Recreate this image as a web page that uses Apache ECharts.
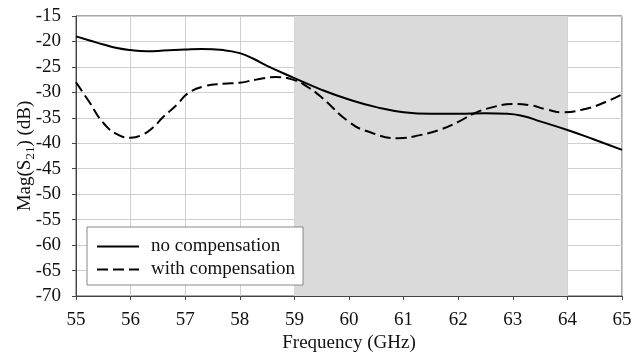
<!DOCTYPE html>
<html>
<head>
<meta charset="utf-8">
<script src="https://cdn.jsdelivr.net/npm/echarts@6/dist/echarts.min.js"></script>
<style>
  html, body { margin: 0; padding: 0; background: #fff; }
  #chart { width: 643px; height: 352px; }
</style>
</head>
<body>
<div id="chart"></div>
<script>
// S21 magnitude vs frequency, with and without compensation
const freqNoComp = [55.0, 55.25, 55.5, 55.75, 56.0, 56.3, 56.6, 57.0, 57.3, 57.7, 58.0, 58.25, 58.5, 59.0, 59.5, 60.0, 60.5, 61.0, 61.5, 62.0, 62.5, 62.9, 63.2, 63.5, 64.0, 64.5, 65.0];
const magNoComp  = [-19.0, -19.8, -20.6, -21.3, -21.7, -21.9, -21.8, -21.6, -21.5, -21.7, -22.3, -23.4, -24.8, -27.2, -29.5, -31.4, -32.9, -33.9, -34.2, -34.2, -34.1, -34.2, -34.7, -35.7, -37.4, -39.3, -41.3];

const freqWithComp = [55.0, 55.25, 55.5, 55.75, 56.0, 56.2, 56.4, 56.6, 56.85, 57.05, 57.35, 57.7, 58.0, 58.3, 58.65, 59.0, 59.25, 59.5, 60.0, 60.35, 60.9, 61.3, 61.7, 62.0, 62.3, 62.6, 63.0, 63.3, 63.6, 63.9, 64.35, 64.7, 65.0];
const magWithComp  = [-28.0, -32.0, -36.0, -38.2, -38.9, -38.4, -37.0, -34.8, -32.4, -30.2, -28.8, -28.3, -28.1, -27.5, -27.0, -27.6, -29.0, -31.0, -35.8, -37.7, -39.0, -38.4, -37.2, -35.8, -34.1, -33.0, -32.3, -32.5, -33.3, -33.9, -33.2, -31.9, -30.4];

// Highlighted frequency band (GHz)
const bandStart = 59;
const bandEnd = 64;

const seriesNames = ['no compensation', 'with compensation'];
const xAxisTitle = 'Frequency (GHz)';
const yAxisTitle = 'Mag(S{sub|21}) (dB)';

const FONT = '"Liberation Serif", "Times New Roman", serif';

const pairs = (xs, ys) => xs.map((x, i) => [x, ys[i]]);

const chart = echarts.init(document.getElementById('chart'), null, { renderer: 'canvas' });

chart.setOption({
  animation: false,
  backgroundColor: '#fff',
  textStyle: { fontFamily: FONT },
  grid: {
    left: 76, right: 21, top: 16, bottom: 56,
    containLabel: false,
    outerBoundsMode: 'none',
    show: true, borderColor: '#555', borderWidth: 1
  },
  legend: {
    data: seriesNames,
    orient: 'vertical',
    left: 87,
    top: 227,
    padding: [10, 8, 6, 9],
    itemWidth: 42,
    itemHeight: 20,
    itemGap: 4,
    backgroundColor: '#fff',
    borderColor: '#888',
    borderWidth: 1,
    borderRadius: 0,
    itemStyle: { opacity: 0 },
    textStyle: { fontFamily: FONT, fontSize: 19, color: '#111', padding: [0, 0, 0, 7] }
  },
  xAxis: {
    type: 'value',
    min: 55, max: 65, interval: 1,
    name: xAxisTitle,
    nameLocation: 'middle',
    nameGap: 38,
    nameMoveOverlap: false,
    nameTextStyle: { fontFamily: FONT, fontSize: 19, color: '#111' },
    axisLine: { show: true, lineStyle: { color: '#444', width: 1 } },
    axisTick: { show: true, length: 4, lineStyle: { color: '#444' } },
    axisLabel: { fontFamily: FONT, fontSize: 19, color: '#111', margin: 15 },
    splitLine: { show: true, lineStyle: { color: '#cfcfcf', width: 1 } }
  },
  yAxis: {
    type: 'value',
    min: -70, max: -15, interval: 5,
    name: yAxisTitle,
    nameLocation: 'middle',
    nameGap: 39,
    nameMoveOverlap: false,
    nameTextStyle: {
      fontFamily: FONT, fontSize: 19, color: '#111', lineHeight: 24,
      rich: {
        sub: { fontFamily: FONT, fontSize: 13, lineHeight: 14, verticalAlign: 'bottom', color: '#111' }
      }
    },
    axisLine: { show: true, lineStyle: { color: '#444', width: 1 } },
    axisTick: { show: true, length: 4, lineStyle: { color: '#444' } },
    axisLabel: { fontFamily: FONT, fontSize: 19, color: '#111', margin: 15 },
    splitLine: { show: true, lineStyle: { color: '#cfcfcf', width: 1 } }
  },
  series: [
    {
      // shaded band drawn beneath the grid lines
      name: 'band',
      type: 'line',
      data: [],
      z: -1,
      silent: true,
      markArea: {
        silent: true,
        itemStyle: { color: '#dadada' },
        data: [[{ xAxis: bandStart }, { xAxis: bandEnd }]]
      }
    },
    {
      name: seriesNames[0],
      type: 'line',
      data: pairs(freqNoComp, magNoComp),
      smooth: 0.5,
      symbol: 'none',
      lineStyle: { color: '#000', width: 2, type: 'solid' },
      itemStyle: { color: '#000' },
      z: 3
    },
    {
      name: seriesNames[1],
      type: 'line',
      data: pairs(freqWithComp, magWithComp),
      smooth: 0.5,
      symbol: 'none',
      lineStyle: { color: '#000', width: 2, type: [11, 5] },
      itemStyle: { color: '#000' },
      z: 3
    }
  ]
});
</script>
</body>
</html>
